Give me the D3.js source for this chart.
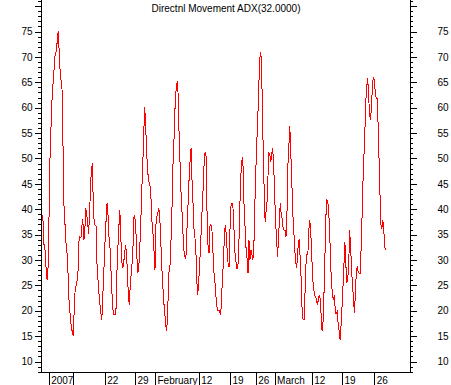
<!DOCTYPE html>
<html><head><meta charset="utf-8">
<script src="https://cdn.jsdelivr.net/npm/d3@7"></script>
<style>
body{margin:0;background:#fff}
svg{display:block}
text{font-family:"Liberation Sans",Arial,sans-serif;font-size:10px;fill:#000}
</style>
</head><body>
<svg id="c" width="451" height="385"></svg>
<script>
const title = "Directnl Movement ADX(32.0000)";
const adx = [
38.9,38.0,33.1,32.6,29.3,26.4,26.2,33,47.4,53.3,58.9,63.8,65.1,68.7,70.7,71,73,75,71.4,67.4,
65.4,64.4,54.3,41.2,37.9,33.9,32,30.3,23.1,20.8,18.2,16.9,15.6,15,20.8,24.4,25,26,28,33.9,
34.6,34.3,36.6,38,33.9,35.2,40.2,39.2,37.5,35.2,38.5,43.8,47.7,49,41.2,37.2,36.9,36.6,28.7,26,
23.4,21.4,19.5,18.2,22.8,26.7,32.6,35.2,40.8,41.2,36.9,32.9,32,
26,22.4,19.5,19.2,19.2,20.5,28,32.6,36.6,39.8,34.6,29.7,28.4,29.3,31.3,32.9,31.3,27.4,22.8,21.1,
25.4,27.4,29.7,33.3,38.9,38,35.2,30.3,27.4,28.7,32.3,37.2,43.1,48.4,53.3,60.2,57.6,52,48.4,46,
45,44.4,41.5,36.9,34.9,31.6,28,36.9,38.5,39.2,40.2,38.5,34.6,29,26,22.4,20.1,18.2,16,17.8,
23.4,28.7,29,34.6,40.8,49,53.6,59.5,63.1,64.8,65.1,56.9,51.7,
45.4,40.8,37.9,32.6,31,30.3,31.3,37.9,41.6,46.4,49.7,52,45.7,41.5,36.2,34.6,32.3,26,23.1,25.7,
29,32.6,37.5,41.2,45.4,50.3,51.3,50.3,36.9,32.3,31.3,36.9,36.9,35.9,31.9,27.7,26,23.4,21.1,20.1,
20.1,20.1,19.2,21.4,26.4,29.3,34.3,36.9,35.2,31.9,29.3,28.7,35.9,40.5,41.2,40.8,37.2,31.9,30.3,28.4,
28.4,30.3,37.9,44.4,48.7,50.3,47.7,39.2,36.2,31.9,30.3,27.4,33.9,30,
32,31.3,30,31.3,39.5,46.7,51.7,56.9,61.5,68.4,71,69.7,61.5,51.3,43.8,37.5,39.5,41.5,46.4,51,
50.7,49.3,51,52,48.7,43.1,37.5,34.6,30.6,33.6,37.9,41.2,38.9,38.2,36.2,35.9,35.9,34.6,39.2,48.7,
52.3,56.3,51.3,46.4,39.5,36.6,32.6,30,28.4,30,33.6,33.9,30,26,19.8,18.2,18.2,23.4,29,31,
31,35.7,37.9,35.7,31.6,26.4,24.7,23.1,22.8,22.4,21.1,22.1,
23.1,22.4,19.2,16,17.8,23.4,30.6,38.5,41.8,41.5,39.5,35.7,29,25.4,22.8,22.1,23.1,19.5,19.5,19.8,
17.2,16,14.3,17.2,20.8,24.7,29,33.6,29.3,25.4,26.4,28.7,35.9,32.6,28.7,24.7,22.8,19.5,23.1,27.4,
28.7,27.7,27.4,27.4,31.6,37.9,45,50,54.9,61.2,64.1,65.8,62.5,58.6,57.6,60.2,64.1,66.1,65.4,63.1,
61.8,61.8,56.6,49.7,42.8,36.9,36.2,37.9,35.9,32.6,32
];
const yLabelTicks = [10,15,20,25,30,35,40,45,50,55,60,65,70,75];
const yMajorTicks = [10,15,20,25,30,35,40,45,50,55,60,65,70,75,80];
const yMinorTicks = d3.range(8, 82);
const xTickIndex = [7,33,66,98,119,165,198,225,245,284,316,350];
const xTickLabels = ["2007","","22","29","February","12","19","26","March","12","19","26"];

const svg = d3.select("#c");
const L = 41, R = 410, B = 372;
const x = d3.scaleLinear().domain([0, adx.length - 1]).range([42, 385.7]);
const y = d3.scaleLinear().domain([10, 75]).range([361.5, 31.5]);

// title
svg.append("text").attr("x", 226).attr("y", 12).attr("text-anchor", "middle").text(title);

function yAxis(gen, xpos, size, vals, fmt, pad) {
  const g = svg.append("g").attr("transform", `translate(${xpos},0)`)
    .call(gen(y).tickValues(vals).tickSize(size).tickPadding(pad).tickFormat(fmt));
  g.select(".domain").remove();
  g.selectAll("line").attr("stroke", "#000").attr("shape-rendering", "crispEdges");
  g.selectAll("text").attr("font-family", null).attr("font-size", null);
  return g;
}
const lab = d => yLabelTicks.includes(d) ? d : "";
yAxis(d3.axisLeft, L, 3, yMinorTicks, "", 0);
yAxis(d3.axisLeft, L, 6, yMajorTicks, lab, 2.5);
yAxis(d3.axisRight, R, 3, yMinorTicks, "", 0);
yAxis(d3.axisRight, R, 7, yMajorTicks, lab, 20.5);

// axis frame lines
svg.append("line").attr("x1", L + 0.5).attr("x2", L + 0.5).attr("y1", 0).attr("y2", B + 0.5)
  .attr("stroke", "#000").attr("shape-rendering", "crispEdges");
svg.append("line").attr("x1", R + 0.5).attr("x2", R + 0.5).attr("y1", 0).attr("y2", B + 0.5)
  .attr("stroke", "#000").attr("shape-rendering", "crispEdges");

// bottom axis
const gx = svg.append("g").attr("transform", `translate(0,${B})`)
  .call(d3.axisBottom(x).tickValues(xTickIndex).tickSize(13)
    .tickFormat((d, i) => xTickLabels[i]));
gx.select(".domain").attr("d", `M${L + 0.5},0.5H${R + 0.5}`).attr("stroke", "#000")
  .attr("shape-rendering", "crispEdges");
gx.selectAll("line").attr("stroke", "#000").attr("shape-rendering", "crispEdges");
gx.selectAll("text").attr("font-family", null).attr("font-size", null)
  .attr("text-anchor", "start").attr("x", 2).attr("y", 11.5).attr("dy", 0);

// line
svg.append("path").datum(adx)
  .attr("fill", "none").attr("stroke", "#ff0000").attr("stroke-width", 1)
  .attr("shape-rendering", "crispEdges")
  .attr("d", d3.line().x((d, i) => x(i)).y(d => y(d)));
</script>
</body></html>
